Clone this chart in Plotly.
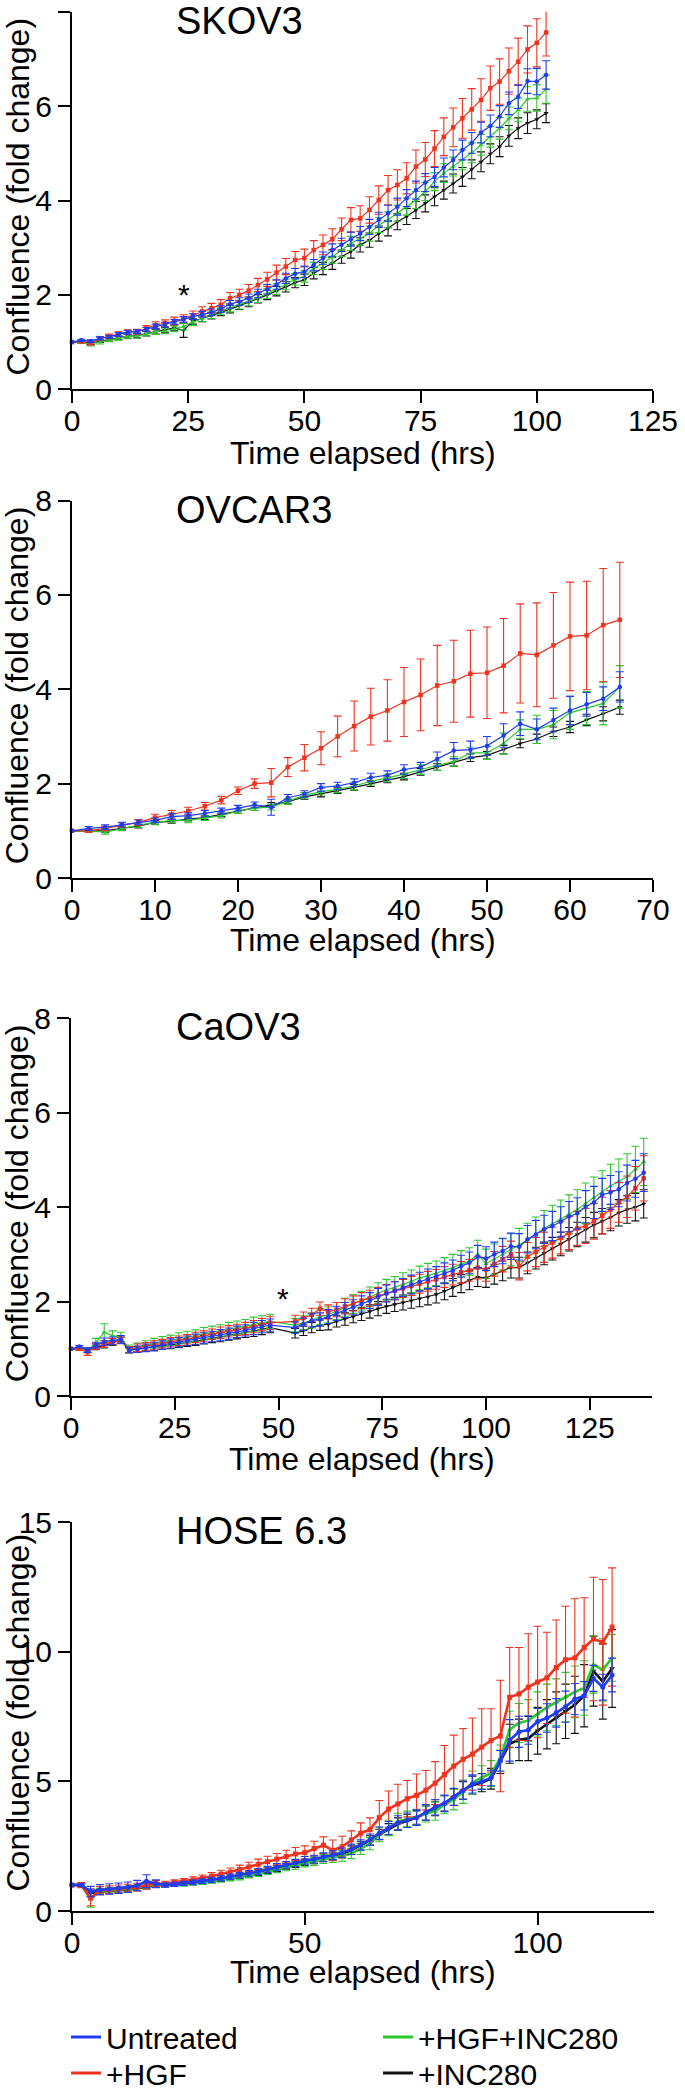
import plotly.graph_objects as go

W, H = 685, 2091
FONT = "Liberation Sans, Arial, sans-serif"

SERIES = ["Untreated", "+HGF", "+HGF+INC280", "+INC280"]
COLORS = {"Untreated": "#1f3cf0", "+HGF": "#f0321e", "+HGF+INC280": "#2dc82d", "+INC280": "#111111"}
SYMBOLS = {"Untreated": "circle", "+HGF": "square", "+HGF+INC280": "triangle-up", "+INC280": "triangle-down"}

# ---------------- SKOV3 ----------------
skov3_t = list(range(0, 104, 2))
skov3_untreated = [1.00, 1.04, 1.02, 1.08, 1.11, 1.16, 1.21, 1.22, 1.27, 1.33,
                   1.37, 1.43, 1.48, 1.54, 1.59, 1.63, 1.70, 1.80, 1.86, 1.93,
                   2.03, 2.12, 2.22, 2.35, 2.45, 2.49, 2.63, 2.78, 2.95, 3.06,
                   3.18, 3.30, 3.44, 3.59, 3.73, 3.87, 4.05, 4.22, 4.38, 4.50,
                   4.70, 4.86, 5.07, 5.22, 5.44, 5.58, 5.78, 6.06, 6.20, 6.53,
                   6.52, 6.66]
skov3_untreated_err = [0, 0.02, 0.03, 0.03, 0.03, 0.04, 0.04, 0.04, 0.04, 0.05,
                       0.05, 0.05, 0.06, 0.06, 0.06, 0.07, 0.07, 0.08, 0.08, 0.09,
                       0.09, 0.1, 0.1, 0.11, 0.11, 0.12, 0.12, 0.13, 0.13, 0.14,
                       0.15, 0.15, 0.16, 0.16, 0.17, 0.18, 0.18, 0.19, 0.19, 0.2,
                       0.2, 0.21, 0.21, 0.22, 0.22, 0.23, 0.23, 0.24, 0.25, 0.26,
                       0.28, 0.3]
skov3_hgf = [1.00, 1.01, 0.98, 1.08, 1.12, 1.17, 1.21, 1.22, 1.29, 1.36,
             1.40, 1.45, 1.50, 1.57, 1.65, 1.72, 1.79, 1.93, 2.00, 2.09,
             2.21, 2.33, 2.47, 2.60, 2.74, 2.78, 2.95, 3.06, 3.18, 3.39,
             3.59, 3.62, 3.80, 4.01, 4.22, 4.33, 4.47, 4.72, 4.87, 5.10,
             5.35, 5.55, 5.74, 5.93, 6.13, 6.38, 6.52, 6.74, 6.94, 7.20,
             7.34, 7.56]
skov3_hgf_err = [0, 0.02, 0.04, 0.04, 0.05, 0.05, 0.05, 0.05, 0.06, 0.07,
                 0.07, 0.08, 0.08, 0.09, 0.1, 0.1, 0.11, 0.12, 0.12, 0.13,
                 0.14, 0.15, 0.16, 0.17, 0.18, 0.19, 0.2, 0.21, 0.22, 0.24,
                 0.26, 0.27, 0.28, 0.3, 0.31, 0.32, 0.33, 0.35, 0.36, 0.38,
                 0.4, 0.41, 0.42, 0.44, 0.45, 0.47, 0.48, 0.49, 0.5, 0.5,
                 0.51, 0.5]
skov3_hgf_inc = [1.00, 1.00, 0.96, 1.00, 1.05, 1.09, 1.12, 1.13, 1.18, 1.22,
                 1.24, 1.28, 1.33, 1.42, 1.50, 1.58, 1.66, 1.72, 1.79, 1.86,
                 1.94, 2.03, 2.12, 2.22, 2.33, 2.39, 2.56, 2.67, 2.81, 2.95,
                 3.09, 3.20, 3.30, 3.48, 3.59, 3.73, 3.87, 4.01, 4.19, 4.40,
                 4.58, 4.72, 4.86, 5.01, 5.18, 5.35, 5.53, 5.74, 5.92, 6.15,
                 6.17, 6.36]
skov3_hgf_inc_err = [0, 0.03, 0.04, 0.04, 0.04, 0.05, 0.05, 0.05, 0.05, 0.06,
                     0.06, 0.06, 0.07, 0.07, 0.07, 0.08, 0.08, 0.08, 0.09, 0.09,
                     0.1, 0.1, 0.11, 0.11, 0.12, 0.12, 0.13, 0.13, 0.14, 0.14,
                     0.15, 0.15, 0.16, 0.16, 0.17, 0.17, 0.18, 0.18, 0.19, 0.19,
                     0.2, 0.2, 0.21, 0.21, 0.22, 0.22, 0.23, 0.24, 0.25, 0.26,
                     0.28, 0.3]
skov3_inc = [1.00, 1.00, 0.98, 1.02, 1.06, 1.09, 1.12, 1.14, 1.18, 1.22,
             1.26, 1.30, 1.25, 1.44, 1.50, 1.56, 1.63, 1.70, 1.77, 1.84,
             1.92, 2.00, 2.08, 2.17, 2.26, 2.32, 2.46, 2.56, 2.67, 2.81,
             2.92, 3.06, 3.16, 3.30, 3.41, 3.55, 3.66, 3.80, 3.94, 4.08,
             4.22, 4.36, 4.50, 4.66, 4.82, 4.99, 5.14, 5.37, 5.53, 5.64,
             5.72, 5.85]
skov3_inc_err = [0, 0.03, 0.03, 0.03, 0.04, 0.04, 0.04, 0.05, 0.05, 0.05,
                 0.05, 0.06, 0.15, 0.06, 0.07, 0.07, 0.07, 0.08, 0.08, 0.09,
                 0.09, 0.1, 0.1, 0.11, 0.11, 0.12, 0.12, 0.13, 0.13, 0.14,
                 0.14, 0.15, 0.15, 0.16, 0.16, 0.17, 0.17, 0.18, 0.18, 0.19,
                 0.19, 0.2, 0.2, 0.2, 0.21, 0.21, 0.21, 0.22, 0.22, 0.22,
                 0.2, 0.2]

# ---------------- OVCAR3 ----------------
ovcar3_t = list(range(0, 68, 2))
ovcar3_untreated = [1.0, 1.05, 1.08, 1.13, 1.18, 1.22, 1.3, 1.32, 1.37, 1.42,
                    1.48, 1.55, 1.5, 1.7, 1.78, 1.92, 1.95, 2.02, 2.13, 2.18,
                    2.3, 2.35, 2.52, 2.7, 2.72, 2.8, 3.02, 3.27, 3.15, 3.35,
                    3.55, 3.68, 3.8, 4.05]
ovcar3_untreated_err = [0, 0.04, 0.05, 0.05, 0.05, 0.05, 0.06, 0.06, 0.06, 0.06,
                        0.06, 0.06, 0.17, 0.07, 0.07, 0.08, 0.08, 0.08, 0.09, 0.09,
                        0.1, 0.1, 0.15, 0.17, 0.18, 0.2, 0.25, 0.25, 0.22, 0.25,
                        0.3, 0.25, 0.25, 0.32]
ovcar3_hgf = [1.0, 1.0, 1.05, 1.12, 1.18, 1.28, 1.35, 1.42, 1.52, 1.65,
              1.85, 2.0, 2.02, 2.35, 2.55, 2.75, 3.0, 3.22, 3.42, 3.55,
              3.73, 3.88, 4.08, 4.17, 4.33, 4.35, 4.5, 4.76, 4.73, 4.93,
              5.12, 5.14, 5.36, 5.47]
ovcar3_hgf_err = [0, 0.03, 0.05, 0.05, 0.06, 0.07, 0.08, 0.08, 0.08, 0.08,
                  0.08, 0.1, 0.3, 0.2, 0.28, 0.35, 0.43, 0.53, 0.6, 0.65,
                  0.73, 0.76, 0.85, 0.87, 0.92, 0.97, 1.0, 1.05, 1.1, 1.12,
                  1.15, 1.15, 1.2, 1.22]
ovcar3_hgf_inc = [1.0, 1.0, 0.97, 1.05, 1.12, 1.18, 1.22, 1.22, 1.27, 1.32,
                  1.42, 1.48, 1.5, 1.62, 1.75, 1.83, 1.88, 1.95, 2.05, 2.12,
                  2.2, 2.3, 2.38, 2.47, 2.65, 2.65, 2.85, 3.15, 3.15, 3.25,
                  3.5, 3.6, 3.7, 4.05]
ovcar3_hgf_inc_err = [0, 0.03, 0.04, 0.05, 0.05, 0.05, 0.05, 0.05, 0.05, 0.05,
                      0.05, 0.05, 0.06, 0.06, 0.06, 0.07, 0.07, 0.08, 0.08, 0.08,
                      0.09, 0.1, 0.1, 0.1, 0.12, 0.14, 0.22, 0.2, 0.3, 0.3,
                      0.35, 0.35, 0.45, 0.45]
ovcar3_inc = [1.0, 1.0, 1.0, 1.05, 1.1, 1.18, 1.2, 1.25, 1.28, 1.35,
              1.42, 1.48, 1.55, 1.62, 1.72, 1.78, 1.85, 1.92, 2.0, 2.08,
              2.15, 2.25, 2.35, 2.45, 2.55, 2.6, 2.72, 2.85, 2.95, 3.1,
              3.2, 3.35, 3.48, 3.62]
ovcar3_inc_err = [0, 0.02, 0.03, 0.03, 0.04, 0.04, 0.04, 0.04, 0.04, 0.05,
                  0.05, 0.05, 0.05, 0.05, 0.05, 0.06, 0.06, 0.06, 0.06, 0.06,
                  0.07, 0.07, 0.07, 0.08, 0.08, 0.08, 0.09, 0.09, 0.1, 0.1,
                  0.12, 0.12, 0.15, 0.15]

# ---------------- CaOV3 ----------------
caov3_t = list(range(0, 50, 2)) + list(range(54, 140, 2))
caov3_untreated = [1.00, 1.05, 0.97, 1.08, 1.15, 1.17, 1.20, 0.97, 0.99, 1.02,
                   1.05, 1.08, 1.11, 1.14, 1.17, 1.20, 1.23, 1.26, 1.29, 1.32,
                   1.36, 1.39, 1.43, 1.47, 1.50,
                   1.45, 1.52, 1.60, 1.62, 1.68, 1.75, 1.82, 1.88, 1.95, 2.02,
                   2.10, 2.17, 2.23, 2.30, 2.36, 2.42, 2.48, 2.53, 2.60, 2.66,
                   2.75, 2.82, 2.95, 2.91, 3.00, 3.07, 3.17, 3.16, 3.32, 3.42,
                   3.53, 3.60, 3.69, 3.80, 3.87, 4.01, 4.10, 4.26, 4.31, 4.38,
                   4.51, 4.60, 4.73]
caov3_untreated_err = [0, 0.02, 0.05, 0.06, 0.08, 0.08, 0.08, 0.06, 0.07, 0.08,
                       0.09, 0.09, 0.1, 0.1, 0.1, 0.11, 0.11, 0.11, 0.12, 0.12,
                       0.12, 0.12, 0.13, 0.13, 0.13,
                       0.12, 0.13, 0.14, 0.14, 0.15, 0.15, 0.16, 0.16, 0.17, 0.17,
                       0.18, 0.18, 0.19, 0.19, 0.2, 0.2, 0.21, 0.21, 0.22, 0.22,
                       0.23, 0.23, 0.24, 0.25, 0.26, 0.27, 0.28, 0.28, 0.29, 0.3,
                       0.3, 0.31, 0.32, 0.32, 0.33, 0.34, 0.34, 0.35, 0.36, 0.37,
                       0.38, 0.39, 0.4]
caov3_hgf = [1.00, 1.00, 0.93, 1.05, 1.10, 1.15, 1.18, 0.98, 1.02, 1.05,
             1.08, 1.11, 1.14, 1.17, 1.20, 1.24, 1.27, 1.31, 1.34, 1.37,
             1.40, 1.43, 1.47, 1.51, 1.55,
             1.58, 1.65, 1.72, 1.85, 1.78, 1.83, 1.90, 1.96, 2.02, 2.07,
             2.12, 2.18, 2.23, 2.28, 2.33, 2.38, 2.43, 2.47, 2.52, 2.57,
             2.62, 2.66, 2.72, 2.68, 2.80, 2.90, 3.00, 2.75, 2.95, 3.05,
             3.15, 3.25, 3.35, 3.45, 3.55, 3.60, 3.70, 3.82, 3.95, 4.10,
             4.22, 4.40, 4.61]
caov3_hgf_err = [0, 0.03, 0.07, 0.06, 0.07, 0.07, 0.07, 0.07, 0.08, 0.08,
                 0.09, 0.09, 0.1, 0.1, 0.1, 0.11, 0.11, 0.11, 0.12, 0.12,
                 0.12, 0.13, 0.13, 0.13, 0.14,
                 0.13, 0.13, 0.14, 0.14, 0.15, 0.15, 0.16, 0.16, 0.17, 0.17,
                 0.18, 0.18, 0.19, 0.19, 0.2, 0.2, 0.21, 0.21, 0.22, 0.22,
                 0.23, 0.23, 0.24, 0.25, 0.26, 0.27, 0.28, 0.29, 0.3, 0.31,
                 0.32, 0.33, 0.34, 0.35, 0.36, 0.37, 0.38, 0.39, 0.4, 0.42,
                 0.44, 0.46, 0.48]
caov3_hgf_inc = [1.00, 1.00, 0.97, 1.12, 1.35, 1.28, 1.25, 1.00, 1.03, 1.07,
                 1.12, 1.15, 1.18, 1.22, 1.25, 1.28, 1.32, 1.35, 1.38, 1.42,
                 1.45, 1.48, 1.52, 1.55, 1.58,
                 1.50, 1.55, 1.60, 1.68, 1.72, 1.80, 1.88, 1.95, 2.02, 2.10,
                 2.18, 2.25, 2.30, 2.37, 2.43, 2.50, 2.55, 2.60, 2.66, 2.72,
                 2.80, 2.85, 3.00, 2.80, 2.90, 3.00, 3.10, 3.20, 3.30, 3.42,
                 3.55, 3.65, 3.75, 3.85, 3.95, 4.08, 4.20, 4.32, 4.45, 4.55,
                 4.65, 4.80, 4.96]
caov3_hgf_inc_err = [0, 0.03, 0.05, 0.1, 0.18, 0.1, 0.1, 0.08, 0.09, 0.1,
                     0.1, 0.11, 0.11, 0.12, 0.12, 0.12, 0.13, 0.13, 0.13, 0.14,
                     0.14, 0.14, 0.15, 0.15, 0.15,
                     0.14, 0.15, 0.16, 0.17, 0.17, 0.18, 0.19, 0.2, 0.2, 0.21,
                     0.22, 0.22, 0.23, 0.24, 0.24, 0.25, 0.26, 0.26, 0.27, 0.28,
                     0.28, 0.29, 0.3, 0.31, 0.32, 0.33, 0.34, 0.35, 0.36, 0.37,
                     0.38, 0.39, 0.4, 0.41, 0.42, 0.43, 0.44, 0.45, 0.46, 0.47,
                     0.48, 0.49, 0.5]
caov3_inc = [1.00, 1.00, 0.97, 1.03, 1.07, 1.12, 1.20, 0.97, 0.99, 1.01,
             1.03, 1.06, 1.08, 1.11, 1.13, 1.16, 1.19, 1.22, 1.25, 1.28,
             1.31, 1.34, 1.37, 1.41, 1.45,
             1.33, 1.38, 1.45, 1.50, 1.52, 1.58, 1.63, 1.68, 1.74, 1.79,
             1.85, 1.90, 1.94, 1.98, 2.02, 2.06, 2.10, 2.15, 2.22, 2.30,
             2.38, 2.45, 2.52, 2.50, 2.58, 2.65, 2.72, 2.72, 2.82, 2.92,
             3.02, 3.12, 3.22, 3.32, 3.42, 3.52, 3.62, 3.70, 3.78, 3.88,
             3.95, 4.00, 4.07]
caov3_inc_err = [0, 0.02, 0.04, 0.05, 0.05, 0.05, 0.05, 0.05, 0.06, 0.06,
                 0.07, 0.07, 0.08, 0.08, 0.08, 0.09, 0.09, 0.09, 0.1, 0.1,
                 0.1, 0.1, 0.11, 0.11, 0.11,
                 0.1, 0.1, 0.11, 0.11, 0.12, 0.12, 0.13, 0.13, 0.14, 0.14,
                 0.15, 0.15, 0.15, 0.16, 0.16, 0.17, 0.17, 0.18, 0.18, 0.19,
                 0.19, 0.2, 0.2, 0.2, 0.21, 0.21, 0.22, 0.22, 0.23, 0.23,
                 0.24, 0.24, 0.25, 0.25, 0.26, 0.26, 0.27, 0.27, 0.28, 0.28,
                 0.29, 0.29, 0.3]

# ---------------- HOSE 6.3 ----------------
hose_t = list(range(0, 118, 2))
hose_untreated = [1.0, 1.0, 0.75, 0.82, 0.85, 0.88, 0.92, 0.98, 1.15, 1.05,
                  1.0, 1.03, 1.07, 1.1, 1.15, 1.2, 1.26, 1.32, 1.38, 1.45,
                  1.52, 1.6, 1.7, 1.78, 1.85, 1.95, 2.0, 2.08, 2.15, 2.25,
                  2.38, 2.55, 2.75, 3.0, 3.2, 3.4, 3.5, 3.6, 3.8, 4.0,
                  4.15, 4.4, 4.66, 4.9, 4.99, 5.13, 5.79, 6.58, 6.91, 6.98,
                  7.31, 7.44, 7.64, 7.88, 8.17, 8.3, 8.97, 8.63, 9.1]
hose_untreated_err = [0, 0.05, 0.2, 0.2, 0.2, 0.2, 0.2, 0.2, 0.25, 0.15,
                      0.08, 0.08, 0.08, 0.09, 0.09, 0.1, 0.1, 0.1, 0.11, 0.11,
                      0.12, 0.12, 0.13, 0.13, 0.14, 0.15, 0.15, 0.16, 0.17, 0.18,
                      0.2, 0.2, 0.22, 0.24, 0.25, 0.27, 0.28, 0.3, 0.3, 0.3,
                      0.32, 0.33, 0.35, 0.35, 0.3, 0.3, 0.4, 0.8, 0.6, 0.55,
                      0.5, 0.55, 0.55, 0.6, 0.6, 0.55, 0.5, 0.5, 0.65]
hose_hgf = [1.0, 1.0, 0.5, 0.8, 0.82, 0.85, 0.88, 0.92, 1.0, 1.05,
            1.05, 1.1, 1.15, 1.2, 1.27, 1.34, 1.42, 1.5, 1.6, 1.7,
            1.8, 1.9, 2.0, 2.1, 2.2, 2.25, 2.41, 2.54, 2.34, 2.48,
            2.74, 3.0, 3.14, 3.6, 3.93, 4.13, 4.33, 4.46, 4.66, 4.93,
            5.26, 5.59, 5.85, 6.05, 6.32, 6.58, 6.75, 8.24, 8.37, 8.63,
            8.83, 8.99, 9.39, 9.69, 9.76, 10.16, 10.49, 10.36, 10.95]
hose_hgf_err = [0, 0.1, 0.3, 0.15, 0.15, 0.15, 0.15, 0.15, 0.15, 0.12,
                0.1, 0.1, 0.1, 0.12, 0.12, 0.14, 0.15, 0.16, 0.17, 0.18,
                0.2, 0.21, 0.22, 0.24, 0.25, 0.26, 0.28, 0.32, 0.4, 0.4,
                0.35, 0.4, 0.45, 0.66, 0.7, 0.76, 0.7, 0.82, 0.76, 0.83,
                1.12, 1.19, 1.19, 1.39, 1.48, 1.22, 2.15, 1.92, 1.79, 2.06,
                2.15, 1.76, 1.83, 2.06, 2.28, 1.92, 2.38, 2.42, 2.28]
hose_hgf_inc = [1.0, 1.0, 0.45, 0.78, 0.8, 0.82, 0.85, 0.9, 0.98, 1.0,
                1.0, 1.02, 1.04, 1.07, 1.1, 1.15, 1.2, 1.25, 1.3, 1.37,
                1.44, 1.52, 1.6, 1.68, 1.75, 1.85, 1.92, 2.0, 2.05, 2.12,
                2.22, 2.4, 2.6, 2.95, 3.2, 3.45, 3.55, 3.62, 3.75, 3.85,
                4.1, 4.3, 4.6, 4.95, 5.15, 5.3, 5.9, 7.0, 7.25, 7.35,
                7.6, 7.85, 8.05, 8.25, 8.45, 8.6, 9.5, 9.3, 9.76]
hose_hgf_inc_err = [0, 0.05, 0.3, 0.1, 0.1, 0.1, 0.1, 0.1, 0.1, 0.08,
                    0.06, 0.06, 0.07, 0.07, 0.08, 0.08, 0.09, 0.09, 0.1, 0.1,
                    0.11, 0.11, 0.12, 0.13, 0.14, 0.15, 0.16, 0.17, 0.18, 0.2,
                    0.2, 0.22, 0.24, 0.28, 0.3, 0.32, 0.3, 0.3, 0.32, 0.35,
                    0.35, 0.4, 0.45, 0.45, 0.45, 0.5, 0.5, 0.7, 0.75, 0.8,
                    0.85, 0.9, 0.9, 0.95, 1.0, 1.05, 1.1, 1.2, 0.9]
hose_inc = [1.0, 1.0, 0.7, 0.75, 0.78, 0.8, 0.82, 0.88, 0.95, 1.0,
            1.0, 1.02, 1.05, 1.08, 1.12, 1.17, 1.22, 1.28, 1.34, 1.4,
            1.47, 1.55, 1.63, 1.72, 1.8, 1.88, 1.95, 2.03, 2.1, 2.2,
            2.35, 2.52, 2.72, 2.95, 3.15, 3.35, 3.48, 3.6, 3.78, 3.95,
            4.15, 4.4, 4.65, 4.85, 4.95, 5.1, 5.75, 6.45, 6.6, 6.65,
            6.95, 7.2, 7.45, 7.7, 7.95, 8.3, 9.25, 8.85, 9.35]
hose_inc_err = [0, 0.05, 0.15, 0.1, 0.1, 0.1, 0.1, 0.1, 0.1, 0.08,
                0.06, 0.06, 0.07, 0.07, 0.07, 0.08, 0.08, 0.08, 0.09, 0.09,
                0.1, 0.1, 0.11, 0.11, 0.12, 0.12, 0.13, 0.13, 0.14, 0.15,
                0.16, 0.17, 0.18, 0.2, 0.22, 0.24, 0.25, 0.26, 0.27, 0.28,
                0.3, 0.32, 0.34, 0.35, 0.35, 0.4, 0.45, 0.75, 0.8, 0.85,
                0.9, 0.95, 1.0, 1.05, 1.1, 1.2, 1.35, 1.45, 1.5]

# ---------------- panel definitions ----------------
panels = [
    dict(name="SKOV3", t=skov3_t,
         data={"Untreated": (skov3_untreated, skov3_untreated_err), "+HGF": (skov3_hgf, skov3_hgf_err),
               "+HGF+INC280": (skov3_hgf_inc, skov3_hgf_inc_err), "+INC280": (skov3_inc, skov3_inc_err)},
         xrange=[0, 125], xticks=[0, 25, 50, 75, 100, 125], yrange=[0, 8], yticks=[0, 2, 4, 6, 8],
         star=(24, 1.62)),
    dict(name="OVCAR3", t=ovcar3_t,
         data={"Untreated": (ovcar3_untreated, ovcar3_untreated_err), "+HGF": (ovcar3_hgf, ovcar3_hgf_err),
               "+HGF+INC280": (ovcar3_hgf_inc, ovcar3_hgf_inc_err), "+INC280": (ovcar3_inc, ovcar3_inc_err)},
         xrange=[0, 70], xticks=[0, 10, 20, 30, 40, 50, 60, 70], yrange=[0, 8], yticks=[0, 2, 4, 6, 8],
         star=None),
    dict(name="CaOV3", t=caov3_t,
         data={"Untreated": (caov3_untreated, caov3_untreated_err), "+HGF": (caov3_hgf, caov3_hgf_err),
               "+HGF+INC280": (caov3_hgf_inc, caov3_hgf_inc_err), "+INC280": (caov3_inc, caov3_inc_err)},
         xrange=[0, 140], xticks=[0, 25, 50, 75, 100, 125], yrange=[0, 8], yticks=[0, 2, 4, 6, 8],
         star=(51, 1.68)),
    dict(name="HOSE 6.3", t=hose_t,
         data={"Untreated": (hose_untreated, hose_untreated_err), "+HGF": (hose_hgf, hose_hgf_err),
               "+HGF+INC280": (hose_hgf_inc, hose_hgf_inc_err), "+INC280": (hose_inc, hose_inc_err)},
         xrange=[0, 125], xticks=[0, 50, 100], yrange=[0, 15], yticks=[0, 5, 10, 15],
         star=None),
]

# pixel geometry of the plot areas (left, right, top, bottom) and x-title offset below axis
boxes = [(72, 653, 11.7, 389.3), (72, 653, 500.5, 878.0), (71, 652, 1018.3, 1396.0), (72, 654, 1522.0, 1911.0)]
xtitle_off = [64, 62, 63, 61]
line_w = [1.2, 1.2, 1.2, 2.6]
mark_s = [4.5, 4.5, 4.5, 5]

fig = go.Figure()
draw_order = ["+INC280", "+HGF+INC280", "+HGF", "Untreated"]
annotations = []
layout_axes = {}


def px_x(p):
    return p / W


def px_y(p):
    return 1 - p / H


for i, p in enumerate(panels):
    k = "" if i == 0 else str(i + 1)
    xa, ya = "x" + k, "y" + k
    for s in draw_order:
        vals, errs = p["data"][s]
        fig.add_trace(go.Scatter(
            x=p["t"], y=vals, mode="lines+markers", xaxis=xa, yaxis=ya, showlegend=False,
            line=dict(color=COLORS[s], width=line_w[i]),
            marker=dict(color=COLORS[s], size=mark_s[i], symbol=SYMBOLS[s]),
            error_y=dict(type="data", array=errs, visible=True, color=COLORS[s], thickness=1.1, width=4),
            cliponaxis=False, hoverinfo="skip"))
    l, r, t, b = boxes[i]
    layout_axes["xaxis" + k] = dict(
        domain=[px_x(l), px_x(r)], range=p["xrange"], tickvals=p["xticks"], anchor=ya,
        showline=True, linecolor="black", linewidth=2, ticks="outside", ticklen=12, tickwidth=2,
        tickcolor="black", showgrid=False, zeroline=False, automargin=False, ticklabelstandoff=-8,
        tickfont=dict(size=30, color="black"))
    layout_axes["yaxis" + k] = dict(
        domain=[px_y(b), px_y(t)], range=p["yrange"], tickvals=p["yticks"], anchor=xa,
        showline=True, linecolor="black", linewidth=2, ticks="outside", ticklen=12, tickwidth=2,
        tickcolor="black", showgrid=False, zeroline=False, automargin=False,
        tickfont=dict(size=30, color="black"))
    # panel title
    annotations.append(dict(text=p["name"], x=px_x(174), y=px_y(t + 9), xref="paper", yref="paper",
                            xanchor="left", yanchor="middle", showarrow=False,
                            font=dict(size=38, color="black")))
    # y axis title
    annotations.append(dict(text="Confluence (fold change)", x=px_x(17), y=px_y((t + b) / 2 - 4),
                            xref="paper", yref="paper", xanchor="center", yanchor="middle",
                            textangle=-90, showarrow=False, font=dict(size=32, color="black")))
    # x axis title
    annotations.append(dict(text="Time elapsed (hrs)", x=px_x((l + r) / 2), y=px_y(b + xtitle_off[i]),
                            xref="paper", yref="paper", xanchor="center", yanchor="middle",
                            showarrow=False, font=dict(size=32, color="black")))
    if p["star"]:
        annotations.append(dict(text="*", x=p["star"][0], y=p["star"][1], xref=xa, yref=ya,
                                xanchor="center", yanchor="bottom", showarrow=False,
                                font=dict(size=30, color="black")))

# legend entries: one legend box per entry, arranged in two columns x two rows
legend_ids = {"Untreated": "legend", "+HGF": "legend2", "+HGF+INC280": "legend3", "+INC280": "legend4"}
legend_pos = {"Untreated": (66, 2037), "+HGF": (66, 2073), "+HGF+INC280": (378, 2037), "+INC280": (378, 2073)}
for s in SERIES:
    fig.add_trace(go.Scatter(x=[None], y=[None], mode="lines", name=s, xaxis="x4", yaxis="y4",
                             line=dict(color=COLORS[s], width=3), legend=legend_ids[s], showlegend=True))

legend_layout = {}
for s in SERIES:
    lx, ly = legend_pos[s]
    legend_layout[legend_ids[s]] = dict(
        x=px_x(lx), y=px_y(ly), xanchor="left", yanchor="middle", bgcolor="rgba(0,0,0,0)",
        font=dict(size=30, color="black"), itemwidth=30, borderwidth=0)

fig.update_layout(
    width=W, height=H, margin=dict(l=0, r=0, t=0, b=0, pad=0, autoexpand=False),
    paper_bgcolor="white", plot_bgcolor="white",
    font=dict(family=FONT, color="black"),
    annotations=annotations,
    **legend_layout,
    **layout_axes,
)

fig.write_html("out.html", config={"displayModeBar": False},
               post_script="document.body.style.margin='0';document.body.style.padding='0';"
                           "document.documentElement.style.overflow='hidden';")
